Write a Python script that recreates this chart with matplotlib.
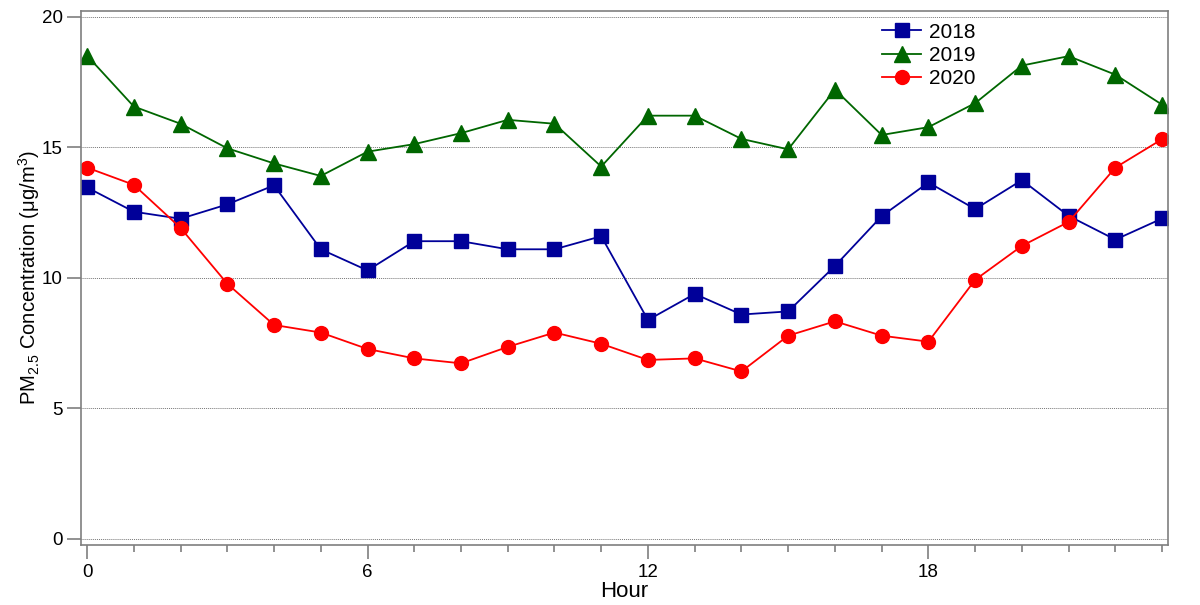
import numpy as np
import matplotlib
matplotlib.use("Agg")
import matplotlib.pyplot as plt
from matplotlib.ticker import MultipleLocator

plt.rcParams['font.family'] = ['Liberation Sans', 'DejaVu Sans']
plt.rcParams['mathtext.fontset'] = 'custom'
plt.rcParams['mathtext.rm'] = 'Liberation Sans'
plt.rcParams['mathtext.it'] = 'Liberation Sans:italic'

# --- dados (concentração média por hora) ---
horas = list(range(24))
pm_2018 = [13.46, 12.53, 12.26, 12.81, 13.54, 11.09, 10.28, 11.40, 11.40, 11.09, 11.09, 11.59,
           8.38, 9.38, 8.59, 8.71, 10.45, 12.36, 13.65, 12.63, 13.74, 12.37, 11.46, 12.27]
pm_2019 = [18.51, 16.56, 15.90, 14.96, 14.38, 13.90, 14.83, 15.12, 15.54, 16.05, 15.90, 14.26,
           16.21, 16.21, 15.32, 14.92, 17.21, 15.47, 15.77, 16.69, 18.13, 18.49, 17.78, 16.63]
pm_2020 = [14.22, 13.56, 11.91, 9.77, 8.19, 7.90, 7.27, 6.91, 6.72, 7.35, 7.90, 7.47,
           6.85, 6.91, 6.41, 7.78, 8.33, 7.78, 7.55, 9.92, 11.22, 12.14, 14.22, 15.31]
anos = ["2018", "2019", "2020"]
x_ticks = [0, 6, 12, 18]
y_ticks = [0, 5, 10, 15, 20]

fig = plt.figure(figsize=(12, 6.05), dpi=100)
ax = fig.add_axes([0.0675, 0.0992, 0.906, 0.8826])

ax.plot(horas, pm_2018, color='#000099', marker='s', markersize=10, lw=1.3, label=anos[0])
ax.plot(horas, pm_2019, color='#006600', marker='^', markersize=11, lw=1.3, label=anos[1])
ax.plot(horas, pm_2020, color='#ff0000', marker='o', markersize=10, lw=1.3, label=anos[2])

ax.set_xlim(-0.13, 23.13)
ax.set_ylim(-0.24, 20.22)
ax.set_xticks(x_ticks)
ax.xaxis.set_minor_locator(MultipleLocator(1))
ax.set_yticks(y_ticks)

for y in y_ticks:
    ax.axhline(y, color='#777777', lw=0.7, ls=(0, (1, 1)), zorder=0)

for s in ax.spines.values():
    s.set_color('#7f7f7f')
    s.set_linewidth(1.2)

ax.tick_params(axis='both', which='major', labelsize=13.5, color='#7f7f7f', width=1.2)
ax.tick_params(axis='y', which='major', length=10, pad=3)
ax.tick_params(axis='x', which='major', length=10, pad=4)
ax.tick_params(axis='x', which='minor', length=5, color='#7f7f7f', width=1.2)

ax.set_xlabel("Hour", fontsize=16, labelpad=0)
ax.set_ylabel("PM$_{2.5}$ Concentration (μg/m$^{3}$)", fontsize=14.5, labelpad=0)

ax.legend(loc='upper left', bbox_to_anchor=(0.737, 0.978), frameon=False, fontsize=15,
          handlelength=1.85, handletextpad=0.4, labelspacing=0.2,
          borderpad=0, borderaxespad=0)

plt.savefig("out.png", dpi=100)
